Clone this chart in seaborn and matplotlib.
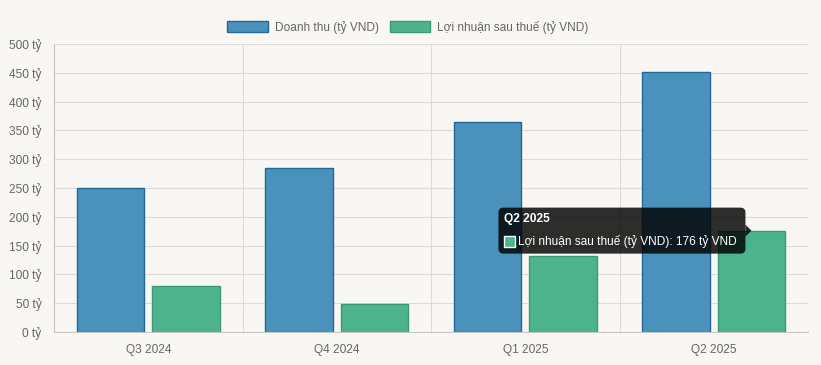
import matplotlib
matplotlib.use("Agg")
import matplotlib.pyplot as plt
import seaborn as sns
import pandas as pd
from matplotlib.patches import FancyBboxPatch, Polygon, Rectangle
from matplotlib.ticker import FuncFormatter, FixedLocator

quarters = ["Q3 2024", "Q4 2024", "Q1 2025", "Q2 2025"]
revenue = [250, 285, 365, 452]
profit = [80, 48, 132, 176]
series_names = ["Doanh thu (tỷ VND)", "Lợi nhuận sau thuế (tỷ VND)"]
y_ticks = [0, 50, 100, 150, 200, 250, 300, 350, 400, 450, 500]
tooltip_title = "Q2 2025"
tooltip_index = 3

BG = "#f8f7f4"
FILL = ["#4a92bb", "#4db38f"]
EDGE = ["#23679a", "#3a9a78"]
TXT = "#666666"
GRID = "#dedcd8"

df = pd.DataFrame({
    "quarter": quarters * 2,
    "value": revenue + profit,
    "series": [series_names[0]] * 4 + [series_names[1]] * 4,
})

sns.set_theme(style="white")
plt.rcParams["font.family"] = ["Liberation Sans", "DejaVu Sans"]

fig = plt.figure(figsize=(8.21, 3.65), dpi=100, facecolor=BG)
ax = fig.add_axes([54 / 821, 33 / 365, 754 / 821, 288 / 365])
ax.set_facecolor(BG)

sns.barplot(data=df, x="quarter", y="value", hue="series", order=quarters,
            hue_order=series_names, palette=FILL, width=0.8, gap=0.1,
            saturation=1, ax=ax, legend=False, linewidth=1)
for i, cont in enumerate(ax.containers):
    for p in cont:
        p.set_edgecolor(EDGE[i])
        p.set_linewidth(1)

ax.set_xlim(-0.5, 3.5)
ax.set_ylim(0, 500)
ax.set_xlabel("")
ax.set_ylabel("")
ax.yaxis.set_major_locator(FixedLocator(y_ticks))
ax.yaxis.set_major_formatter(FuncFormatter(lambda v, p: f"{int(v)} tỷ"))
ax.xaxis.set_minor_locator(FixedLocator([-0.5, 0.5, 1.5, 2.5, 3.5]))
ax.tick_params(axis="x", which="major", length=0, pad=9, labelsize=8.6, labelcolor=TXT)
ax.tick_params(axis="x", which="minor", length=7, color=GRID, width=0.8)
ax.tick_params(axis="y", which="major", length=6, color=GRID, width=0.8, pad=3,
               labelsize=8.6, labelcolor=TXT)
ax.grid(True, axis="y", which="major", color=GRID, linewidth=0.8)
ax.grid(True, axis="x", which="minor", color=GRID, linewidth=0.8)
ax.set_axisbelow(True)
for s in ["top", "right"]:
    ax.spines[s].set_visible(False)
for s in ["left", "bottom"]:
    ax.spines[s].set_color("#c8c6c2")
    ax.spines[s].set_linewidth(0.8)

handles = [Rectangle((0, 0), 1, 1, facecolor=FILL[i], edgecolor=EDGE[i], linewidth=1)
           for i in range(2)]
fig.legend(handles, series_names, loc="center", bbox_to_anchor=(408 / 821, 1 - 27 / 365),
           ncol=2, frameon=False, fontsize=8.6, labelcolor=TXT, handlelength=3.4,
           handleheight=1.0, handletextpad=0.6, columnspacing=0.9)

# tooltip
fig.canvas.draw()
bar = ax.containers[1][tooltip_index]
tip_x = bar.get_x() + bar.get_width() / 2
tx, ty = ax.transData.transform((tip_x, profit[tooltip_index]))
bw, bh = 247, 46
right = tx - 6
left = right - bw
bottom = ty - bh / 2
box = FancyBboxPatch((left, bottom), bw, bh, boxstyle="round,pad=0,rounding_size=5",
                     transform=None, facecolor="black", alpha=0.82, edgecolor="none",
                     zorder=10)
fig.add_artist(box)
caret = Polygon([[right, ty - 6], [right + 6, ty], [right, ty + 6]], closed=True,
                transform=None, facecolor="black", alpha=0.82, edgecolor="none", zorder=10)
fig.add_artist(caret)
fig.text((left + 6) / 821, (ty + 12) / 365, tooltip_title, color="white",
         fontsize=8.6, fontweight="bold", va="center", ha="left", zorder=11)
sq = Rectangle((left + 6, ty - 16), 11, 11, transform=None, facecolor=FILL[1],
               edgecolor="white", linewidth=1, zorder=11)
fig.add_artist(sq)
fig.text((left + 20) / 821, (ty - 10.5) / 365,
         f"{series_names[1]}: {profit[tooltip_index]} tỷ VND", color="white",
         fontsize=8.6, va="center", ha="left", zorder=11)

fig.savefig("out.png", dpi=100, facecolor=BG)
